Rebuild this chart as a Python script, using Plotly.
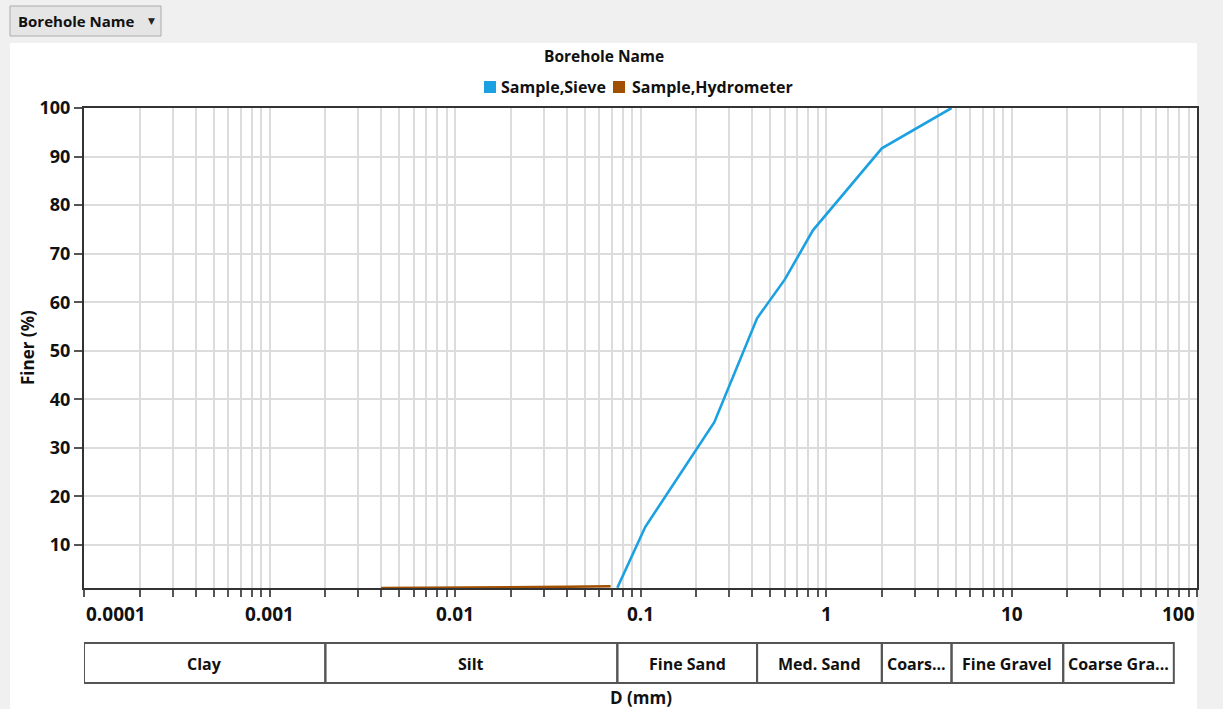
import numpy as np
import plotly.graph_objects as go

# ---------------- data ----------------
sieve_d = [0.075, 0.106, 0.25, 0.425, 0.6, 0.85, 2.0, 4.75]
sieve_finer = [1.2, 13.7, 35.3, 56.7, 64.7, 74.8, 91.7, 100.0]

hydro_d = [0.004, 0.01, 0.02, 0.04, 0.069]
hydro_finer = [1.15, 1.2, 1.3, 1.4, 1.5]

zone_labels = ["Clay", "Silt", "Fine Sand", "Med. Sand", "Coars...", "Fine Gravel", "Coarse Gra..."]
zone_bounds = [0.0001, 0.002, 0.075, 0.425, 2.0, 4.75, 19.0, 75.0]

x_decades = [0.0001, 0.001, 0.01, 0.1, 1, 10, 100]
x_tick_labels = ["0.0001", "0.001", "0.01", "0.1", "1", "10", "100"]
y_ticks = [10, 20, 30, 40, 50, 60, 70, 80, 90, 100]

series_names = ["Sample,Sieve", "Sample,Hydrometer"]
series_colors = ["#1ba1e2", "#a05000"]

# ---------------- geometry helpers ----------------
W, H = 1223, 709
L, R, T, B = 84, 26, 108, 121
PW, PH = W - L - R, H - T - B


def px(xpix):
    return (xpix - L) / PW


def py(ypix):
    return (H - B - ypix) / PH


FONT = "Open Sans"
TXT = "#111111"

minor_vals = [n * 10.0 ** k for k in range(-4, 2) for n in range(1, 10)] + [100.0]

fig = go.Figure()
fig.add_trace(go.Scatter(x=hydro_d, y=hydro_finer, mode="lines", name=series_names[1],
                         line=dict(color=series_colors[1], width=2.5), showlegend=False))
fig.add_trace(go.Scatter(x=sieve_d, y=sieve_finer, mode="lines", name=series_names[0],
                         line=dict(color=series_colors[0], width=2.6), showlegend=False))
# helper trace so the log-space overlay axis exists
fig.add_trace(go.Scatter(x=[], y=[], xaxis="x2", yaxis="y", showlegend=False, hoverinfo="skip"))

shapes = []
annotations = []

# white chart panel
shapes.append(dict(type="rect", xref="paper", yref="paper", x0=px(10), x1=px(1197), y0=py(43), y1=py(712),
                   fillcolor="white", line=dict(width=0), layer="below"))
# dropdown button
shapes.append(dict(type="rect", xref="paper", yref="paper", x0=px(10), x1=px(161), y0=py(36), y1=py(6),
                   fillcolor="#e5e5e5", line=dict(color="#acacac", width=1), layer="below"))
annotations.append(dict(xref="paper", yref="paper", x=px(16), y=py(21), text="Borehole Name", showarrow=False,
                        xanchor="left", yanchor="middle", font=dict(family=FONT, size=15, color=TXT, weight="bold")))
annotations.append(dict(xref="paper", yref="paper", x=px(151), y=py(21), text="▼", showarrow=False,
                        xanchor="center", yanchor="middle", font=dict(family="DejaVu Sans", size=9, color="#222")))

# legend (manual)
annotations.append(dict(xref="paper", yref="paper", x=px(604), y=py(56), text="Borehole Name", showarrow=False,
                        xanchor="center", yanchor="middle", font=dict(family=FONT, size=15.5, color=TXT, weight="bold")))
leg_sq = [484, 613]
leg_tx = [499, 630]
for i in range(2):
    shapes.append(dict(type="rect", xref="paper", yref="paper", x0=px(leg_sq[i]), x1=px(leg_sq[i] + 12),
                       y0=py(93), y1=py(81), fillcolor=series_colors[i], line=dict(width=0)))
    annotations.append(dict(xref="paper", yref="paper", x=px(leg_tx[i]), y=py(87), text=series_names[i],
                            showarrow=False, xanchor="left", yanchor="middle",
                            font=dict(family=FONT, size=16, color=TXT, weight="bold")))

# x tick labels
for i, (d, lab) in enumerate(zip(x_decades, x_tick_labels)):
    anchor = "left" if i == 0 else ("right" if i == len(x_decades) - 1 else "center")
    annotations.append(dict(xref="x2", yref="paper", x=float(np.log10(d)), y=py(614), text=lab, showarrow=False,
                            xanchor=anchor, yanchor="middle",
                            font=dict(family=FONT, size=19, color=TXT, weight="bold")))

# soil classification boxes
for i, lab in enumerate(zone_labels):
    a, b = float(np.log10(zone_bounds[i])), float(np.log10(zone_bounds[i + 1]))
    shapes.append(dict(type="rect", xref="x2", yref="paper", x0=a, x1=b, y0=py(683), y1=py(643),
                       fillcolor="rgba(0,0,0,0)", line=dict(color="#555555", width=2)))
    annotations.append(dict(xref="x2", yref="paper", x=(a + b) / 2, y=py(664), text=lab, showarrow=False,
                            xanchor="center", yanchor="middle",
                            font=dict(family=FONT, size=16, color=TXT, weight="bold")))

# axis titles
annotations.append(dict(xref="paper", yref="paper", x=px(641), y=py(697), text="D (mm)", showarrow=False,
                        xanchor="center", yanchor="middle", font=dict(family=FONT, size=17, color=TXT, weight="bold")))
annotations.append(dict(xref="paper", yref="paper", x=px(27), y=py(348), text="Finer (%)", showarrow=False,
                        textangle=-90, xanchor="center", yanchor="middle",
                        font=dict(family=FONT, size=17, color=TXT, weight="bold")))

fig.update_layout(
    width=W, height=H,
    margin=dict(l=L, r=R, t=T, b=B, pad=0),
    paper_bgcolor="#f0f0f0",
    plot_bgcolor="white",
    showlegend=False,
    shapes=shapes,
    annotations=annotations,
    xaxis=dict(type="log", range=[-4, 2], tickmode="array", tickvals=minor_vals,
               ticktext=[""] * len(minor_vals), showticklabels=False,
               ticks="outside", ticklen=7, tickwidth=2, tickcolor="#555555",
               showgrid=True, gridcolor="#dcdcdc", gridwidth=1.5,
               showline=True, linecolor="#333333", linewidth=2, mirror=True, zeroline=False),
    xaxis2=dict(type="linear", range=[-4, 2], overlaying="x", visible=False, showgrid=False, zeroline=False),
    yaxis=dict(range=[1.15, 100], tickmode="array", tickvals=y_ticks,
               ticks="outside", ticklen=8, tickwidth=2, tickcolor="#555555",
               tickfont=dict(family=FONT, size=18, color=TXT, weight="bold"),
               showgrid=True, gridcolor="#dcdcdc", gridwidth=1.5,
               showline=True, linecolor="#333333", linewidth=2, mirror=True, zeroline=False),
)

fig.write_html("out.html", config={"displayModeBar": False},
               post_script="document.body.style.margin='0px';document.body.style.overflow='hidden';")
